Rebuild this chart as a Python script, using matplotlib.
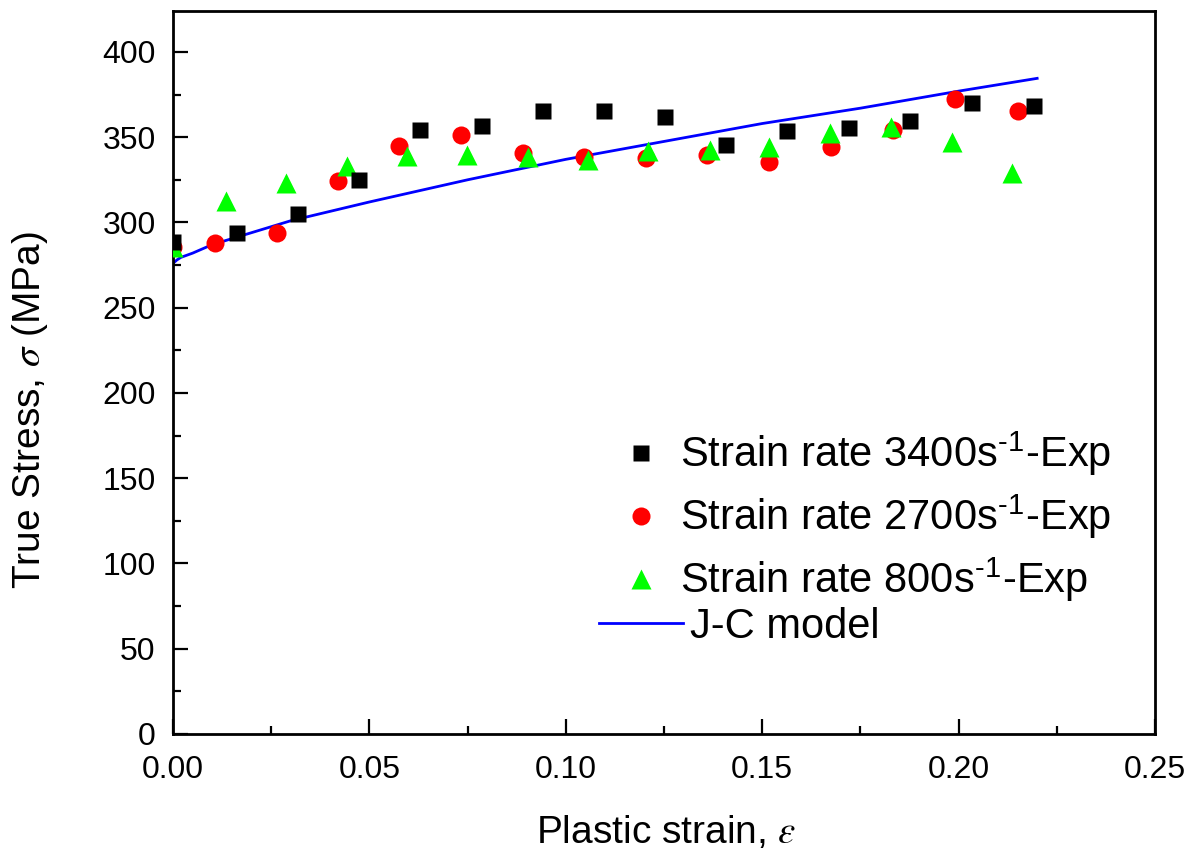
import numpy as np
import matplotlib
matplotlib.use("Agg")
from matplotlib import pyplot as plt
from matplotlib.ticker import MultipleLocator, FormatStrFormatter

plt.rcParams['font.family'] = ['Liberation Sans', 'DejaVu Sans']
plt.rcParams['mathtext.fontset'] = 'stix'

# data
# strain rate 3400 1/s (squares)
eps_3400 = [0.0, 0.0164, 0.0319, 0.0474, 0.0629, 0.0786, 0.0941, 0.1097,
            0.1253, 0.1407, 0.1562, 0.1720, 0.1876, 0.2033, 0.2191]
sig_3400 = [288.5, 294.0, 305.0, 325.0, 354.0, 356.5, 365.5, 365.5,
            361.7, 345.2, 353.4, 355.4, 359.3, 370.0, 368.0]

# strain rate 2700 1/s (circles)
eps_2700 = [0.0, 0.0107, 0.0264, 0.0421, 0.0576, 0.0732, 0.0890, 0.1047,
            0.1203, 0.1360, 0.1517, 0.1675, 0.1833, 0.1992, 0.2150]
sig_2700 = [285.8, 288.0, 294.0, 324.5, 344.9, 351.3, 341.0, 338.6,
            337.6, 339.6, 335.7, 344.3, 354.4, 372.5, 365.3]

# strain rate 800 1/s (triangles)
eps_800 = [0.0, 0.0135, 0.0288, 0.0442, 0.0595, 0.0748, 0.0905, 0.1056,
           0.1210, 0.1366, 0.1518, 0.1673, 0.1827, 0.1983, 0.2137]
sig_800 = [285.5, 312.8, 323.4, 333.1, 339.0, 339.6, 338.6, 336.4,
           341.6, 342.6, 344.4, 352.5, 355.9, 347.4, 329.0]

# J-C model curve
eps_jc = [0.0, 0.001, 0.002, 0.005, 0.01, 0.02, 0.03, 0.05, 0.075,
          0.1, 0.125, 0.15, 0.175, 0.2, 0.22]
sig_jc = [276.0, 278.0, 279.5, 282.0, 287.0, 294.0, 301.0, 312.0, 325.0,
          337.0, 347.5, 358.0, 367.0, 377.0, 384.5]

sup = r's$^{\mathregular{' + '\u2010' + r'1}}$-Exp'

fig = plt.figure(figsize=(12.03, 8.52), dpi=100)
ax = fig.add_axes([0.1438, 0.1385, 0.8163, 0.8486])

h1, = ax.plot(eps_3400, sig_3400, 's', color='black', ms=11.5, mec='none',
              label='Strain rate 3400' + sup, zorder=5)
h2, = ax.plot(eps_2700, sig_2700, 'o', color='red', ms=13, mec='none',
              label='Strain rate 2700' + sup, zorder=3)
h3, = ax.plot(eps_800, sig_800, '^', color='#00ff00', ms=14.5, mec='none',
              label='Strain rate 800' + sup, zorder=4)
h4, = ax.plot(eps_jc, sig_jc, '-', color='blue', lw=2.0, label='J-C model',
              zorder=2)

ax.set_xlim(0, 0.25)
ax.set_ylim(0, 424)
ax.xaxis.set_major_locator(MultipleLocator(0.05))
ax.xaxis.set_minor_locator(MultipleLocator(0.025))
ax.xaxis.set_major_formatter(FormatStrFormatter('%.2f'))
ax.yaxis.set_major_locator(MultipleLocator(50))
ax.yaxis.set_minor_locator(MultipleLocator(25))

ax.tick_params(which='both', direction='in', top=False, right=False,
               labelsize=23, width=1.6)
ax.tick_params(which='major', length=11)
ax.tick_params(which='minor', length=6)
ax.tick_params(axis='x', which='major', pad=15)
ax.tick_params(axis='y', which='major', pad=12.5)
for sp in ax.spines.values():
    sp.set_linewidth(2.0)

ax.set_xlabel(r'Plastic strain, $\varepsilon$', fontsize=28)
ax.set_ylabel(r'True Stress, $\sigma$ (MPa)', fontsize=28)
ax.xaxis.set_label_coords(0.502, -0.110)
ax.yaxis.set_label_coords(-0.125, 0.448)

# marker entries and model line in two blocks, like the original legend
leg1 = ax.legend(handles=[h1, h2, h3], loc='center left',
                 bbox_to_anchor=(0.447, 0.300), frameon=False, fontsize=30,
                 handlelength=1.4, handletextpad=0.24, labelspacing=0.35,
                 borderaxespad=0, borderpad=0, numpoints=1)
ax.add_artist(leg1)
ax.legend(handles=[h4], loc='center left', bbox_to_anchor=(0.434, 0.148),
          frameon=False, fontsize=30, handlelength=2.0, handletextpad=0.17,
          borderaxespad=0, borderpad=0)

fig.savefig('out.png', dpi=100)
